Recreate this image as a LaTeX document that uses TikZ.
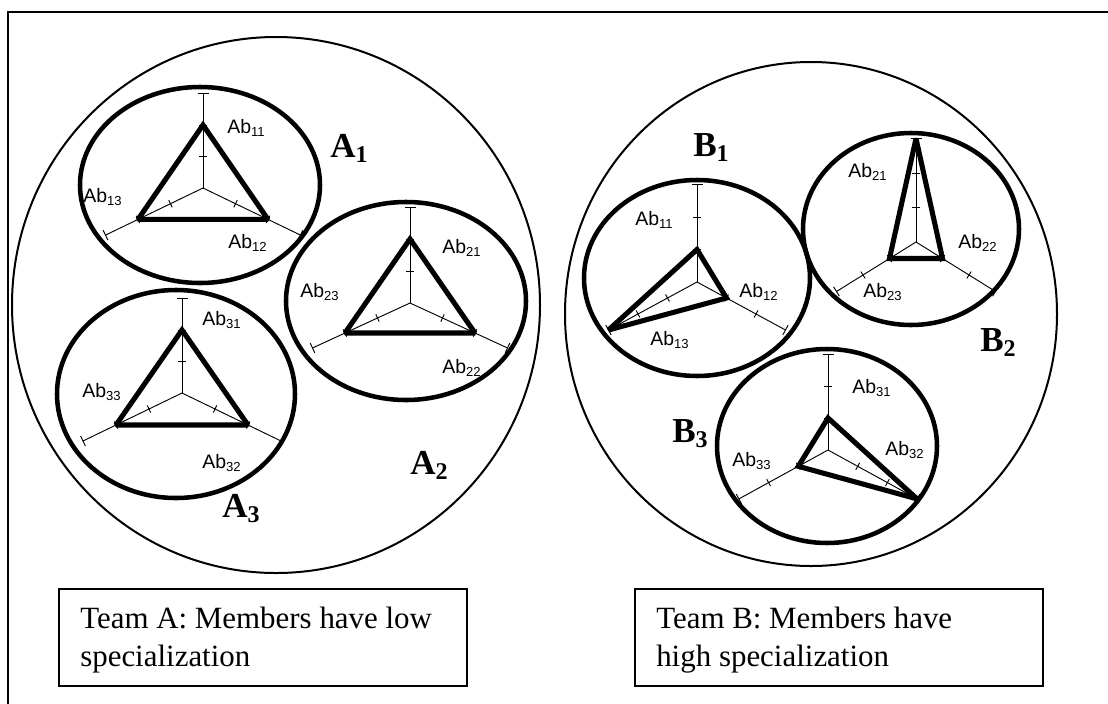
\documentclass[tikz,border=0pt]{standalone}
\usepackage{fontspec}
\setmainfont{Liberation Serif}
\newfontfamily\abfont{Liberation Sans}

% subscript helpers for the ability labels and the member names
\newcommand{\absub}[1]{\raisebox{-2.4pt}{\fontsize{9.8pt}{10pt}\selectfont #1}}
\newcommand{\teamsub}[1]{\raisebox{-3.8pt}{\fontsize{18pt}{20pt}\selectfont #1}}

% radar profile of one member:
% #1,#2 centre; #3 vertical step; #4,#5 diagonal step (x,y);
% #6 top value; #7 lower-right value; #8 lower-left value
\newcommand{\radarplot}[8]{%
  \begin{scope}[shift={(#1,#2)}]
    \pgfmathsetmacro{\rdlen}{sqrt((#4)*(#4)+(#5)*(#5))}
    \pgfmathsetmacro{\rdtx}{-(#5)/\rdlen}
    \pgfmathsetmacro{\rdty}{(#4)/\rdlen}
    \draw[axisline] (0,0) -- (0,{-3*#3});
    \draw[axisline] (0,0) -- ({3*#4},{3*#5});
    \draw[axisline] (0,0) -- ({-3*#4},{3*#5});
    \foreach \k/\h in {1/4,2/4,3/5.5}{
      \draw[axisline] ({-\h},{-\k*#3}) -- ({\h},{-\k*#3});
      \draw[axisline] ({\k*#4+\h*\rdtx},{\k*#5+\h*\rdty}) -- ({\k*#4-\h*\rdtx},{\k*#5-\h*\rdty});
      \draw[axisline] ({-\k*#4+\h*\rdtx},{\k*#5-\h*\rdty}) -- ({-\k*#4-\h*\rdtx},{\k*#5+\h*\rdty});
    }
    \draw[profile] (0,{-#6*#3}) -- ({#7*#4},{#7*#5}) -- ({-#8*#4},{#8*#5}) -- cycle;
  \end{scope}}

\begin{document}
\begin{tikzpicture}[x=0.75pt,y=-0.75pt,
  frameline/.style={line width=2pt},
  teamcircle/.style={line width=1.5pt},
  member/.style={line width=3.4pt},
  axisline/.style={line width=0.7pt},
  profile/.style={line width=3.8pt, line join=miter, miter limit=2},
  ablabel/.style={anchor=base west, inner sep=0pt, font=\abfont\fontsize{14.6pt}{16pt}\selectfont},
  teamlabel/.style={anchor=base west, inner sep=0pt, font=\fontsize{26.3pt}{28pt}\selectfont\bfseries},
  capbox/.style={line width=1.1pt},
  captext/.style={anchor=base west, inner sep=0pt, font=\fontsize{23.2pt}{28pt}\selectfont}
]
\useasboundingbox (0,0) rectangle (1108,704);

% outer frame
\draw[frameline] (8,704) -- (8,12) -- (1108,12);

% the two teams
\draw[teamcircle] (276,305) ellipse [x radius=264, y radius=268];
\draw[teamcircle] (811,314) ellipse [x radius=246, y radius=252];

% members of team A
\draw[member] (200,185) ellipse [x radius=120, y radius=98];
\draw[member] (406,301) ellipse [x radius=120, y radius=99];
\draw[member] (176,394) ellipse [x radius=119, y radius=104];
% members of team B
\draw[member] (697,278) ellipse [x radius=113, y radius=98];
\draw[member] (911,229) ellipse [x radius=108, y radius=96];
\draw[member] (827,446) ellipse [x radius=110, y radius=97];

% ability profiles
\radarplot{203}{188}{31.5}{32.5}{15.7}{2}{2}{2}
\radarplot{410}{303}{32}{32.5}{15}{2}{2}{2}
\radarplot{182}{393}{31.5}{33}{16}{2}{2}{2}
\radarplot{697}{282}{32.5}{29.5}{16}{1}{1}{3}
\radarplot{916}{242}{34.5}{26.5}{16.5}{3}{1}{1}
\radarplot{828}{450}{32}{29.7}{16.3}{1}{3}{1}

% ability labels, team A
\node[ablabel] (a11) at (227,133) {Ab\absub{11}};
\node[ablabel] (a12) at (228,248) {Ab\absub{12}};
\node[ablabel] (a13) at (83,202) {Ab\absub{13}};
\node[ablabel] (a21) at (442,253) {Ab\absub{21}};
\node[ablabel] (a22) at (442,373) {Ab\absub{22}};
\node[ablabel] (a23) at (300,297) {Ab\absub{23}};
\node[ablabel] (a31) at (202,325) {Ab\absub{31}};
\node[ablabel] (a32) at (202,468) {Ab\absub{32}};
\node[ablabel] (a33) at (82,397) {Ab\absub{33}};
% ability labels, team B
\node[ablabel] (b11) at (635,225) {Ab\absub{11}};
\node[ablabel] (b12) at (739,297) {Ab\absub{12}};
\node[ablabel] (b13) at (650,345) {Ab\absub{13}};
\node[ablabel] (b21) at (848,177) {Ab\absub{21}};
\node[ablabel] (b22) at (958,248) {Ab\absub{22}};
\node[ablabel] (b23) at (863,297) {Ab\absub{23}};
\node[ablabel] (b31) at (852,393) {Ab\absub{31}};
\node[ablabel] (b32) at (885,455) {Ab\absub{32}};
\node[ablabel] (b33) at (732,466) {Ab\absub{33}};

% member names
\node[teamlabel] (nA1) at (330,157) {A\teamsub{1}};
\node[teamlabel] (nA2) at (410,474) {A\teamsub{2}};
\node[teamlabel] (nA3) at (222,517) {A\teamsub{3}};
\node[teamlabel] (nB1) at (693,156) {B\teamsub{1}};
\node[teamlabel] (nB2) at (980,351) {B\teamsub{2}};
\node[teamlabel] (nB3) at (672,442) {B\teamsub{3}};

% captions
\draw[capbox] (59,589) rectangle (467,686);
\draw[capbox] (635,589) rectangle (1043,686);
\node[captext] (capA1) at (80,628) {Team A: Members have low};
\node[captext] (capA2) at (80,666) {specialization};
\node[captext] (capB1) at (656,628) {Team B: Members have};
\node[captext] (capB2) at (656,666) {high specialization};
\end{tikzpicture}
\end{document}
